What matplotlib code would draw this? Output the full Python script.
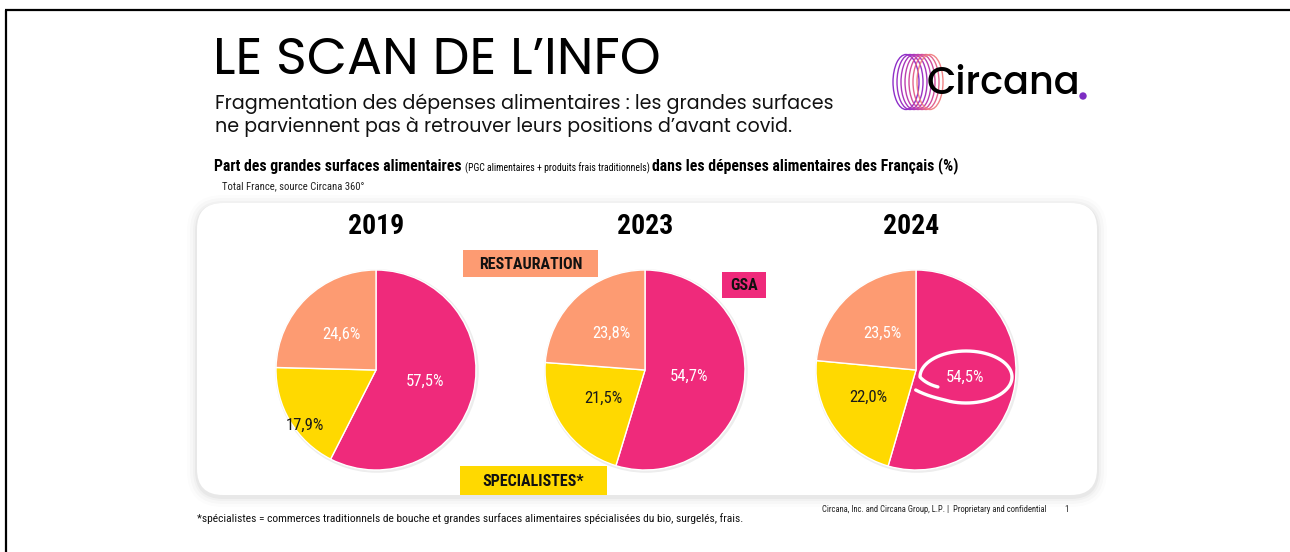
import numpy as np
import matplotlib
matplotlib.use("Agg")
import matplotlib.pyplot as plt
from matplotlib import font_manager as fm
from matplotlib.patches import Rectangle, FancyBboxPatch, Ellipse, Circle

# ---------------- data ----------------
years = ["2019", "2023", "2024"]
categories = ["GSA", "SPECIALISTES*", "RESTAURATION"]
gsa = [57.5, 54.7, 54.5]
specialistes = [17.9, 21.5, 22.0]
restauration = [24.6, 23.8, 23.5]

title = "LE SCAN DE L\u2019INFO"
subtitle = ["Fragmentation des d\u00e9penses alimentaires : les grandes surfaces",
            "ne parviennent pas \u00e0 retrouver leurs positions d\u2019avant covid."]
chart_title_a = "Part des grandes surfaces alimentaires "
chart_title_b = "(PGC alimentaires + produits frais traditionnels) "
chart_title_c = "dans les d\u00e9penses alimentaires des Fran\u00e7ais (%)"
source = "Total France, source Circana 360\u00b0"
footnote = "*sp\u00e9cialistes = commerces traditionnels de bouche et grandes surfaces alimentaires sp\u00e9cialis\u00e9es du bio, surgel\u00e9s, frais."
legal = "Circana, Inc. and Circana Group, L.P. |  Proprietary and confidential"

# ---------------- style ----------------
PINK = "#EF2A7B"
SALMON = "#FD9B72"
YELLOW = "#FFD900"
colors = [PINK, YELLOW, SALMON]
text_colors = ["white", "#1a1a1a", "white"]

names = {f.name for f in fm.fontManager.ttflist}
def pick(*cands):
    for c in cands:
        if c in names:
            return c
    return "DejaVu Sans"
COND = pick("Roboto Condensed", "Liberation Sans Narrow", "Open Sans Condensed", "DejaVu Sans")
GEO = pick("Poppins", "Lato", "Open Sans", "DejaVu Sans")
cond_kw = dict(family=COND)
if COND == "DejaVu Sans":
    cond_kw["fontstretch"] = "condensed"

W, H = 1290, 552
fig = plt.figure(figsize=(W / 100, H / 100), dpi=100)
bg = fig.add_axes([0, 0, 1, 1])
bg.set_xlim(0, W)
bg.set_ylim(H, 0)
bg.axis("off")

# frame lines (top & left)
bg.plot([5, W], [10, 10], color="black", lw=1.6, solid_capstyle="butt")
bg.plot([6, 6], [10, H], color="black", lw=1.6, solid_capstyle="butt")

# titles
bg.text(213, 62, title, fontsize=37.5, family=GEO, va="center", ha="left", color="black")
bg.text(215, 104, subtitle[0], fontsize=13.7, family=GEO, va="center", ha="left", color="#111111")
bg.text(215, 127, subtitle[1], fontsize=13.7, family=GEO, va="center", ha="left", color="#111111")

t1 = bg.text(214, 171, chart_title_a, fontsize=11.3, fontweight="bold", va="baseline", ha="left", **cond_kw)
t2 = bg.annotate(chart_title_b, xy=(1, 0), xycoords=t1, fontsize=7, va="bottom", ha="left", **cond_kw)
t3 = bg.annotate(chart_title_c, xy=(1, 0), xycoords=t2, fontsize=11.3, fontweight="bold", va="bottom", ha="left", **cond_kw)
bg.text(222, 186, source, fontsize=7.7, va="center", ha="left", color="#222222", **cond_kw)

# logo
logo_cols = ["#8E2FC9", "#9B33C4", "#A936BC", "#BB3FB0", "#D04E9E", "#E3658F", "#F08486"]
for i, c in enumerate(logo_cols):
    bg.add_patch(Ellipse((906 + i * 4.0, 82), 26, 55, fill=False, edgecolor=c, lw=1.0))
bg.text(927, 84, "Circana", fontsize=27.5, family=GEO, fontweight="medium", va="center", ha="left", color="black")
bg.add_patch(Circle((1083, 96), 3.0, color="#7D2DC3"))

# panel with shadow
px0, py0, px1, py1 = 197, 203, 1097, 495
for k, a in zip([10, 7, 4, 2], [0.012, 0.018, 0.025, 0.035]):
    bg.add_patch(FancyBboxPatch((px0 - k, py0 - k + 2), px1 - px0 + 2 * k, py1 - py0 + 2 * k,
                                boxstyle="round,pad=0,rounding_size=%d" % (26 + k),
                                facecolor="black", edgecolor="none", alpha=a))
bg.add_patch(FancyBboxPatch((px0, py0), px1 - px0, py1 - py0,
                            boxstyle="round,pad=0,rounding_size=26",
                            facecolor="white", edgecolor="none"))

# footers
bg.text(197, 519, footnote, fontsize=8.25, va="center", ha="left", color="#111111", **cond_kw)
bg.text(822, 509, legal, fontsize=6.2, va="center", ha="left", color="#222222", **cond_kw)
bg.text(1066, 509, "1", fontsize=6.2, va="center", ha="center", color="#222222", **cond_kw)

# ---------------- pies ----------------
centers_x = [376, 645, 916]
cy, R = 370, 100
year_x = [376, 645, 911]
pct_dist = [[0.5, 0.9, 0.5], [0.45, 0.5, 0.5], [0.5, 0.55, 0.5]]
pct_rot = [[0, 7, 0], [0, 0, 0], [0, -4, 0]]

for i, yr in enumerate(years):
    vals = [gsa[i], specialistes[i], restauration[i]]
    ax = fig.add_axes([(centers_x[i] - R) / W, (H - cy - R) / H, 2 * R / W, 2 * R / H])
    ax.add_patch(Circle((0.01, -0.01), 1.018, facecolor="#000000", alpha=0.07, edgecolor="none", clip_on=False))
    wedges, _ = ax.pie(vals, colors=colors, startangle=90, counterclock=False, radius=1,
                       wedgeprops=dict(edgecolor="white", linewidth=1.0))
    for w in wedges:
        w.set_clip_on(False)
    ax.set_xlim(-1, 1)
    ax.set_ylim(-1, 1)
    ax.set_aspect("equal")
    ax.axis("off")
    for j, w in enumerate(wedges):
        mid = np.deg2rad((w.theta1 + w.theta2) / 2 + pct_rot[i][j])
        d = pct_dist[i][j]
        ax.text(d * np.cos(mid), d * np.sin(mid), ("%.1f%%" % vals[j]).replace(".", ","),
                ha="center", va="center", fontsize=12, color=text_colors[j], **cond_kw)
    bg.text(year_x[i], 227, yr, fontsize=20, fontweight="bold", ha="center", va="center", **cond_kw)

# overlay for elements above the pies
ov = fig.add_axes([0, 0, 1, 1])
ov.set_xlim(0, W)
ov.set_ylim(H, 0)
ov.axis("off")
ov.patch.set_alpha(0)

# category boxes
boxes = [(722, 272, 44, 26), (460, 466, 147, 29), (463, 250, 135, 27)]
for j, (bx, by, bw, bh) in enumerate(boxes):
    ov.add_patch(Rectangle((bx, by), bw, bh, facecolor=colors[j], edgecolor="none"))
    ov.text(bx + bw / 2, by + bh / 2 + 1, categories[j], fontsize=11.5, fontweight="bold",
            ha="center", va="center", color="#111111", **cond_kw)

# hand-drawn circle highlight (2024 GSA)
cx, ccy, a, b = 966, 377, 46, 26
t = np.linspace(np.deg2rad(150), np.deg2rad(-212), 300)
scale = np.where(t < np.deg2rad(-180), 1 - 0.5 * (np.deg2rad(-180) - t), 1.0)
xs = cx + a * scale * np.cos(t) - np.where(t > np.deg2rad(120), (t - np.deg2rad(120)) * 20, 0)
ys = ccy + b * scale * np.sin(t)
ov.plot(xs, ys, color="white", lw=2.4, solid_capstyle="round")

fig.savefig("out.png", dpi=100)
